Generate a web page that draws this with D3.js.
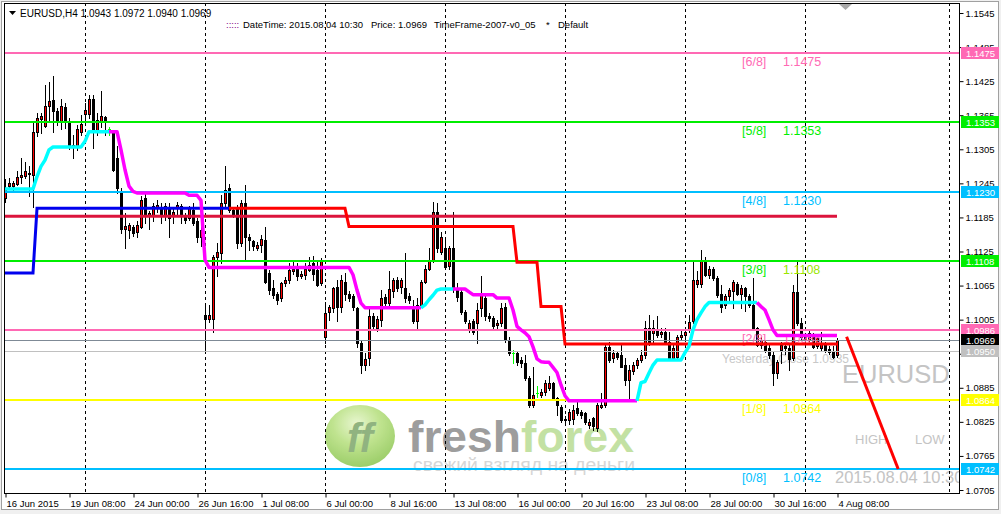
<!DOCTYPE html>
<html>
<head>
<meta charset="utf-8">
<script src="https://cdn.jsdelivr.net/npm/d3@7"></script>
<style>
body { margin: 0; background: #f0f0f0; }
svg { display: block; font-family: "Liberation Sans", Arial, sans-serif; }
</style>
</head>
<body>
<script>
// EURUSD H4, 16 Jun - 4 Aug 2015
var opens = [
1.1220,1.1240,1.1240,1.1243,1.1256,1.1258,1.1264,1.1260,1.1336,1.1359,
1.1346,1.1382,1.1392,1.1372,1.1354,1.1380,1.1354,1.1310,1.1311,1.1336,
1.1368,1.1368,1.1393,1.1336,1.1354,1.1362,1.1340,1.1333,1.1289,1.1231,
1.1164,1.1163,1.1168,1.1160,1.1169,1.1219,1.1190,1.1187,1.1204,1.1204,
1.1187,1.1204,1.1187,1.1201,1.1206,1.1187,1.1184,1.1198,1.1178,1.1151,
1.1014,1.1007,1.1007,1.1116,1.1123,1.1210,1.1237,1.1198,1.1204,1.1140,
1.1211,1.1151,1.1143,1.1132,1.1137,1.1146,1.1088,1.1060,1.1051,1.1043,
1.1069,1.1075,1.1091,1.1094,1.1081,1.1084,1.1093,1.1104,1.1093,1.1069,
1.0975,1.1019,1.1025,1.1063,1.1028,1.1072,1.1051,1.1046,1.1025,1.0963,
1.0925,1.0937,1.1011,1.0990,1.1005,1.1045,1.1034,1.1055,1.1075,1.1063,
1.1060,1.1046,1.1025,1.1002,1.1031,1.1072,1.1095,1.1110,1.1195,1.1125,
1.1131,1.1100,1.1131,1.1060,1.1054,1.1019,1.0987,1.1002,1.0999,1.1025,
1.1043,1.1011,1.1008,1.0996,1.0999,1.1028,1.0969,1.0946,1.0946,1.0934,
1.0929,1.0902,1.0855,1.0875,1.0872,1.0877,1.0884,1.0893,1.0867,1.0852,
1.0828,1.0828,1.0830,1.0849,1.0843,1.0841,1.0819,1.0831,1.0814,1.0852,
1.0855,1.0957,1.0937,1.0946,1.0943,1.0925,1.0899,1.0915,1.0925,1.0934,
1.0942,1.0990,1.0981,1.0987,1.0979,1.0984,1.0966,1.0938,1.0940,1.0975,
1.0978,1.0986,1.1002,1.1068,1.1068,1.1110,1.1084,1.1094,1.1078,1.1050,
1.1030,1.1046,1.1056,1.1068,1.1051,1.1060,1.1046,1.1031,1.0990,1.0961,
1.0966,1.0955,1.0943,1.0911,1.0952,1.0958,1.0955,1.0938,1.1054,1.0999,
1.0975,1.0970,1.0978,1.0958,1.0955,1.0962,1.0954,1.0950,1.0943];
var highs = [
1.1252,1.1255,1.1250,1.1266,1.1289,1.1283,1.1275,1.1354,1.1369,1.1369,
1.1419,1.1424,1.1434,1.1377,1.1394,1.1387,1.1360,1.1331,1.1348,1.1366,
1.1387,1.1401,1.1401,1.1369,1.1407,1.1364,1.1345,1.1336,1.1310,1.1237,
1.1193,1.1176,1.1172,1.1178,1.1222,1.1227,1.1197,1.1211,1.1215,1.1210,
1.1210,1.1211,1.1204,1.1213,1.1208,1.1192,1.1205,1.1211,1.1184,1.1169,
1.1034,1.1030,1.1119,1.1140,1.1225,1.1275,1.1243,1.1204,1.1207,1.1215,
1.1242,1.1155,1.1146,1.1141,1.1154,1.1169,1.1093,1.1075,1.1054,1.1072,
1.1080,1.1105,1.1110,1.1104,1.1090,1.1104,1.1115,1.1117,1.1108,1.1113,
1.1036,1.1031,1.1063,1.1075,1.1084,1.1087,1.1056,1.1051,1.1028,1.0969,
1.0946,1.1028,1.1016,1.1012,1.1057,1.1050,1.1090,1.1078,1.1080,1.1078,
1.1122,1.1052,1.1040,1.1043,1.1075,1.1101,1.1131,1.1213,1.1210,1.1160,
1.1151,1.1135,1.1195,1.1070,1.1060,1.1022,1.1005,1.1006,1.1034,1.1081,
1.1048,1.1016,1.1012,1.1004,1.1034,1.1034,1.0975,1.0952,1.0950,1.0940,
1.0943,1.0905,1.0922,1.0888,1.0882,1.0899,1.0905,1.0895,1.0869,1.0855,
1.0836,1.0848,1.0855,1.0865,1.0846,1.0843,1.0830,1.0834,1.0858,1.0875,
1.0963,1.0966,1.0952,1.0950,1.0960,1.0937,1.0925,1.0930,1.0938,1.0952,
1.1002,1.1013,1.1005,1.1011,1.0990,1.0990,1.0984,1.0960,1.0978,1.0985,
1.0990,1.1013,1.1110,1.1090,1.1128,1.1116,1.1100,1.1098,1.1081,1.1066,
1.1050,1.1060,1.1075,1.1072,1.1066,1.1062,1.1050,1.1078,1.0992,1.0975,
1.0970,1.0962,1.0949,1.0934,1.0965,1.0962,1.0963,1.1066,1.1110,1.1008,
1.0980,1.0987,1.0982,1.0976,1.0984,1.0966,1.0958,1.0958,1.0972];
var lows = [
1.1212,1.1237,1.1234,1.1242,1.1246,1.1255,1.1222,1.1204,1.1328,1.1333,
1.1344,1.1357,1.1336,1.1347,1.1340,1.1343,1.1306,1.1290,1.1304,1.1331,
1.1350,1.1360,1.1308,1.1331,1.1345,1.1331,1.1331,1.1267,1.1228,1.1157,
1.1132,1.1148,1.1152,1.1151,1.1166,1.1176,1.1164,1.1178,1.1195,1.1176,
1.1180,1.1151,1.1176,1.1187,1.1176,1.1176,1.1180,1.1172,1.1142,1.1134,
1.0952,1.1000,1.0984,1.1081,1.1104,1.1204,1.1195,1.1185,1.1132,1.1134,
1.1110,1.1128,1.1128,1.1128,1.1125,1.1069,1.1050,1.1043,1.1033,1.1038,
1.1064,1.1069,1.1085,1.1075,1.1078,1.1077,1.1090,1.1075,1.1064,1.1066,
1.0963,1.1005,1.1019,1.1002,1.1019,1.1040,1.1038,1.1022,1.0957,1.0911,
1.0916,1.0925,1.0988,1.0985,1.0993,1.1028,1.1031,1.1045,1.1055,1.1052,
1.1036,1.1034,1.0999,1.0987,1.1028,1.1069,1.1093,1.1107,1.1125,1.1120,
1.1095,1.1095,1.1054,1.1038,1.1015,1.0999,1.0983,1.0980,1.0963,1.1011,
1.1005,1.1003,1.0988,1.0990,1.0993,1.0966,1.0943,1.0929,1.0925,1.0922,
1.0899,1.0852,1.0852,1.0869,1.0868,1.0872,1.0881,1.0863,1.0837,1.0825,
1.0822,1.0822,1.0822,1.0837,1.0832,1.0821,1.0815,1.0811,1.0809,1.0849,
1.0852,1.0931,1.0930,1.0935,1.0921,1.0890,1.0867,1.0910,1.0920,1.0930,
1.0937,1.0960,1.0962,1.0975,1.0975,1.0962,1.0934,1.0935,1.0934,1.0970,
1.0969,1.0984,1.0999,1.1063,1.1063,1.1082,1.1078,1.1075,1.1045,1.1019,
1.1025,1.1040,1.1025,1.1048,1.1025,1.1020,1.1028,1.0987,1.0959,1.0955,
1.0948,1.0938,1.0890,1.0903,1.0928,1.0945,1.0916,1.0934,1.0996,1.0969,
1.0962,1.0966,1.0955,1.0955,1.0952,1.0948,1.0944,1.0937,1.0940];
var closes = [
1.1235,1.1246,1.1246,1.1257,1.1260,1.1266,1.1262,1.1336,1.1360,1.1363,
1.1382,1.1390,1.1372,1.1354,1.1382,1.1354,1.1310,1.1313,1.1341,1.1350,
1.1375,1.1393,1.1336,1.1357,1.1363,1.1353,1.1340,1.1269,1.1237,1.1164,
1.1170,1.1172,1.1158,1.1172,1.1216,1.1190,1.1193,1.1205,1.1207,1.1187,
1.1205,1.1184,1.1195,1.1207,1.1187,1.1181,1.1201,1.1175,1.1151,1.1163,
1.1007,1.1014,1.1116,1.1125,1.1210,1.1234,1.1198,1.1189,1.1140,1.1211,
1.1151,1.1145,1.1134,1.1137,1.1147,1.1072,1.1057,1.1049,1.1040,1.1069,
1.1075,1.1093,1.1094,1.1081,1.1085,1.1095,1.1101,1.1086,1.1066,1.1110,
1.1017,1.1028,1.1060,1.1028,1.1075,1.1051,1.1043,1.1028,1.0963,1.0925,
1.0935,1.1011,1.0993,1.1006,1.1043,1.1034,1.1059,1.1075,1.1060,1.1075,
1.1043,1.1040,1.1002,1.1030,1.1072,1.1095,1.1110,1.1195,1.1131,1.1151,
1.1098,1.1131,1.1060,1.1045,1.1019,1.1002,1.0999,1.0984,1.1022,1.1048,
1.1011,1.1008,1.0993,1.0999,1.1025,1.0969,1.0946,1.0946,1.0931,1.0929,
1.0902,1.0855,1.0872,1.0875,1.0878,1.0893,1.0893,1.0867,1.0855,1.0828,
1.0830,1.0843,1.0846,1.0840,1.0837,1.0824,1.0825,1.0817,1.0855,1.0855,
1.0957,1.0934,1.0946,1.0940,1.0922,1.0899,1.0916,1.0925,1.0934,1.0943,
1.0990,1.0963,1.0990,1.0978,1.0983,1.0966,1.0937,1.0955,1.0975,1.0978,
1.0984,1.1000,1.1075,1.1075,1.1110,1.1084,1.1095,1.1078,1.1048,1.1028,
1.1046,1.1057,1.1072,1.1051,1.1060,1.1046,1.1031,1.0990,1.0961,1.0968,
1.0952,1.0943,1.0911,1.0931,1.0960,1.0955,1.0936,1.1054,1.0999,1.0975,
1.0970,1.0981,1.0957,1.0972,1.0963,1.0952,1.0948,1.0940,1.0969];

// trailing line (cyan while up, magenta while down)
var trail = [
1.1235,1.1235,1.1235,1.1235,1.1235,1.1235,1.1235,1.1235,1.1257,1.1275,
1.1286,1.1304,1.1309,1.1309,1.1309,1.1309,1.1309,1.1309,1.1309,1.1309,
1.1319,1.1336,1.1336,1.1336,1.1336,1.1336,1.1336,1.1336,1.1336,1.1304,
1.1269,1.1240,1.1231,1.1228,1.1228,1.1228,1.1228,1.1228,1.1228,1.1228,
1.1228,1.1228,1.1228,1.1228,1.1228,1.1228,1.1224,1.1224,1.1224,1.1215,
1.1110,1.1097,1.1097,1.1097,1.1097,1.1097,1.1097,1.1097,1.1097,1.1097,
1.1097,1.1097,1.1097,1.1097,1.1097,1.1097,1.1097,1.1097,1.1097,1.1097,
1.1097,1.1097,1.1097,1.1097,1.1097,1.1097,1.1097,1.1097,1.1097,1.1097,
1.1097,1.1097,1.1097,1.1097,1.1097,1.1097,1.1097,1.1084,1.1057,1.1034,
1.1026,1.1026,1.1026,1.1026,1.1026,1.1026,1.1026,1.1026,1.1026,1.1026,
1.1026,1.1026,1.1026,1.1026,1.1026,1.1031,1.1040,1.1048,1.1057,1.1059,
1.1059,1.1059,1.1059,1.1059,1.1059,1.1059,1.1054,1.1049,1.1049,1.1049,
1.1049,1.1049,1.1049,1.1043,1.1043,1.1043,1.1043,1.1022,1.0993,1.0987,
1.0982,1.0975,1.0957,1.0936,1.0931,1.0930,1.0930,1.0921,1.0912,1.0890,
1.0871,1.0862,1.0862,1.0862,1.0862,1.0862,1.0862,1.0862,1.0862,1.0862,
1.0862,1.0862,1.0862,1.0862,1.0862,1.0862,1.0862,1.0862,1.0862,1.0894,
1.0896,1.0911,1.0925,1.0934,1.0934,1.0934,1.0934,1.0934,1.0934,1.0934,
1.0947,1.0958,1.0987,1.1005,1.1017,1.1028,1.1035,1.1035,1.1035,1.1035,
1.1035,1.1035,1.1035,1.1035,1.1035,1.1035,1.1035,1.1035,1.1035,1.1028,
1.1022,1.1005,1.0987,1.0977,1.0977,1.0977,1.0977,1.0977,1.0977,1.0977,
1.0977,1.0977,1.0977,1.0977,1.0977,1.0977,1.0977,1.0977,1.0977];
var trailUpRanges = [[0, 26], [104, 112], [158, 188]];

// stepped trend line (blue, then red)
var stepLevels = [1.1087, 1.1201, 1.1169, 1.1106, 1.1028, 1.0962];
var stepStarts = [0, 8, 86, 128, 134, 140];
var stepBlueUntil = 56;

var murreyNames  = ['[0/8]', '[1/8]', '[2/8]', '[3/8]', '[4/8]', '[5/8]', '[6/8]'];
var murreyLevels = [1.0742, 1.0864, 1.0986, 1.1108, 1.1230, 1.1353, 1.1475];
var murreyColors = ['#00bfff', '#ffff00', '#ff69b4', '#00ee00', '#00bfff', '#00ee00', '#ff69b4'];

var crimsonLevel = 1.1187;
var currentPrice = 1.0969;
var yesterdayClose = 1.0950;
var projBars = [210.4, 223.3];
var projPrices = [1.0975, 1.0742];

var priceTicks = [1.0705, 1.0765, 1.0825, 1.0885, 1.0945, 1.1005, 1.1065, 1.1125,
                  1.1185, 1.1245, 1.1305, 1.1365, 1.1425, 1.1485, 1.1545];
var timeBars = [0, 16, 32, 48, 64, 80, 96, 112, 128, 144, 160, 176, 192, 208];
var timeLabels = ['16 Jun 2015', '19 Jun 08:00', '24 Jun 00:00', '26 Jun 16:00', '1 Jul 08:00',
                  '6 Jul 00:00', '8 Jul 16:00', '13 Jul 08:00', '16 Jul 00:00', '20 Jul 16:00',
                  '23 Jul 08:00', '28 Jul 00:00', '30 Jul 16:00', '4 Aug 08:00'];
var separatorBars = [20, 50, 80, 110, 140, 170, 200, 236];

var W = 1001, H = 514;
var plotL = 4, plotT = 3, plotR = 959, plotB = 493;

var x = d3.scaleLinear().domain([0, 208]).range([5, 837]);
var y = d3.scaleLinear().domain([1.0705, 1.1545]).range([490, 13]);
var px = function (i) { return Math.round(x(i)) + 0.5; };
var py = function (p) { return Math.round(y(p)) + 0.5; };

var svg = d3.select('body').append('svg').attr('width', W).attr('height', H);

var defs = svg.append('defs');
defs.append('clipPath').attr('id', 'plotclip')
    .append('rect').attr('x', plotL + 1).attr('y', plotT + 1)
    .attr('width', plotR - plotL - 1).attr('height', plotB - plotT - 1);
var grad = defs.append('radialGradient').attr('id', 'blob')
    .attr('cx', '45%').attr('cy', '30%').attr('r', '75%');
grad.append('stop').attr('offset', '0%').attr('stop-color', '#e4f5c8');
grad.append('stop').attr('offset', '45%').attr('stop-color', '#b5df7c');
grad.append('stop').attr('offset', '100%').attr('stop-color', '#86c24a');

svg.append('rect').attr('width', W).attr('height', H).attr('fill', '#f0f0f0');
svg.append('rect').attr('x', 1.5).attr('y', 1.5).attr('width', 997).attr('height', 508)
    .attr('fill', '#fff').attr('stroke', '#a0a0a0');

var g = svg.append('g').attr('clip-path', 'url(#plotclip)');

// freshforex watermark
var logo = g.append('g').attr('opacity', 0.85);
logo.append('ellipse').attr('cx', 360).attr('cy', 436).attr('rx', 35).attr('ry', 31)
    .attr('fill', 'url(#blob)');
logo.append('text').attr('x', 360).attr('y', 452).attr('text-anchor', 'middle')
    .attr('font-size', 40).attr('font-weight', 'bold').attr('font-style', 'italic')
    .attr('fill', '#7da66a').text('ff');
var ff = logo.append('text').attr('x', 408).attr('y', 452)
    .attr('font-size', 45).attr('font-weight', 'bold')
    .attr('textLength', 226).attr('lengthAdjust', 'spacingAndGlyphs');
ff.append('tspan').attr('fill', '#8c8c8c').text('fresh');
ff.append('tspan').attr('fill', '#b9dc93').text('forex');
logo.append('text').attr('x', 413).attr('y', 471).attr('font-size', 18)
    .attr('fill', '#cfcfcf').attr('textLength', 222).attr('lengthAdjust', 'spacingAndGlyphs')
    .text('свежий взгляд на деньги');

// background text objects
g.append('text').attr('x', 842).attr('y', 383).attr('font-size', 25.5)
    .attr('fill', '#c4c4c4').text('EURUSD');
g.append('text').attr('x', 855).attr('y', 444).attr('font-size', 13)
    .attr('fill', '#c4c4c4').text('HIGH');
g.append('text').attr('x', 915).attr('y', 444).attr('font-size', 13)
    .attr('fill', '#c4c4c4').text('LOW');
g.append('text').attr('x', 835).attr('y', 483).attr('font-size', 16.5)
    .attr('fill', '#c4c4c4').text('2015.08.04 10:30');
g.append('text').attr('x', 722).attr('y', 363).attr('font-size', 12)
    .attr('fill', '#c8c8c8').text('Yesterday Close 1.0935');

// period separators
g.selectAll('line.sep').data(separatorBars).join('line')
    .attr('class', 'sep')
    .attr('x1', function (d) { return px(d); }).attr('x2', function (d) { return px(d); })
    .attr('y1', plotT).attr('y2', plotB)
    .attr('stroke', '#000').attr('stroke-dasharray', '3,3');

// candles
var bars = d3.range(opens.length).map(function (i) {
    return { i: i, o: opens[i], h: highs[i], l: lows[i], c: closes[i] };
});
g.selectAll('line.wick').data(bars).join('line')
    .attr('class', 'wick')
    .attr('x1', function (d) { return px(d.i); }).attr('x2', function (d) { return px(d.i); })
    .attr('y1', function (d) { return Math.round(y(d.h)); })
    .attr('y2', function (d) { return Math.round(y(d.l)) + 1; })
    .attr('stroke', function (d) { return d.o === d.c ? '#00ff00' : '#000'; });
g.selectAll('rect.body').data(bars.filter(function (d) { return d.o !== d.c; })).join('rect')
    .attr('class', 'body')
    .attr('x', function (d) { return px(d.i) - 1; })
    .attr('y', function (d) { return py(Math.max(d.o, d.c)); })
    .attr('width', 2)
    .attr('height', function (d) { return Math.max(1, Math.round(y(Math.min(d.o, d.c))) - Math.round(y(Math.max(d.o, d.c)))); })
    .attr('fill', function (d) { return d.c > d.o ? '#ff0000' : '#000'; })
    .attr('stroke', '#000').attr('shape-rendering', 'crispEdges');
g.selectAll('line.doji').data(bars.filter(function (d) { return d.o === d.c; })).join('line')
    .attr('class', 'doji')
    .attr('x1', function (d) { return px(d.i) - 1.5; }).attr('x2', function (d) { return px(d.i) + 1.5; })
    .attr('y1', function (d) { return py(d.o); }).attr('y2', function (d) { return py(d.o); })
    .attr('stroke', '#00ff00');

// horizontal lines
g.append('line').attr('x1', plotL).attr('x2', plotR)
    .attr('y1', py(yesterdayClose)).attr('y2', py(yesterdayClose)).attr('stroke', '#c0c0c0');
g.append('line').attr('x1', plotL).attr('x2', plotR)
    .attr('y1', py(currentPrice)).attr('y2', py(currentPrice)).attr('stroke', '#7f8a96');
g.selectAll('line.murrey').data(murreyLevels).join('line')
    .attr('class', 'murrey')
    .attr('x1', plotL).attr('x2', plotR)
    .attr('y1', function (d) { return Math.round(y(d)); }).attr('y2', function (d) { return Math.round(y(d)); })
    .attr('stroke', function (d, i) { return murreyColors[i]; }).attr('stroke-width', 2);
g.append('line').attr('x1', x(0)).attr('x2', x(208))
    .attr('y1', y(crimsonLevel)).attr('y2', y(crimsonLevel))
    .attr('stroke', '#dc143c').attr('stroke-width', 3);

// murrey labels
murreyLevels.forEach(function (lv, i) {
    var ty = Math.round(y(lv)) + 13;
    g.append('text').attr('x', 742).attr('y', ty).attr('font-size', 12.5)
        .attr('fill', murreyColors[i]).text(murreyNames[i]);
    g.append('text').attr('x', 783).attr('y', ty).attr('font-size', 12.5)
        .attr('fill', i === 3 ? '#9ae600' : murreyColors[i]).text(lv.toFixed(4));
});

// stepped trend line
var stepVals = opens.map(function (o, i) {
    var k = d3.bisectRight(stepStarts, i) - 1;
    return stepLevels[k];
});
var lineOf = function (vals) {
    return d3.line().x(function (i) { return x(i); }).y(function (i) { return y(vals[i]); });
};
var stepLine = lineOf(stepVals);
g.append('path').attr('d', stepLine(d3.range(0, stepBlueUntil + 1)))
    .attr('fill', 'none').attr('stroke', '#0000ee').attr('stroke-width', 3);
g.append('path').attr('d', stepLine(d3.range(stepBlueUntil, opens.length)))
    .attr('fill', 'none').attr('stroke', '#ff0000').attr('stroke-width', 3);

// trailing line
var trailLine = lineOf(trail);
var edges = [0];
trailUpRanges.forEach(function (r) { edges.push(r[0], r[1]); });
edges.push(trail.length - 1);
for (var k = 0; k < edges.length - 1; k++) {
    var a = edges[k], b = edges[k + 1];
    if (b <= a) continue;
    var up = trailUpRanges.some(function (r) { return r[0] === a && r[1] === b; });
    g.append('path').attr('d', trailLine(d3.range(a, b + 1)))
        .attr('fill', 'none').attr('stroke', up ? '#00ffff' : '#ff00ff')
        .attr('stroke-width', 3.5).attr('stroke-linejoin', 'round');
}

// projection line
g.append('line')
    .attr('x1', x(projBars[0])).attr('y1', y(projPrices[0]))
    .attr('x2', x(projBars[1])).attr('y2', y(projPrices[1]))
    .attr('stroke', '#ff0000').attr('stroke-width', 3);

// chart shift marker
svg.append('path').attr('d', 'M839,4 L852,4 L845.5,10 Z').attr('fill', '#a8a8a8');

// frame
svg.append('rect').attr('x', plotL + 0.5).attr('y', plotT + 0.5)
    .attr('width', plotR - plotL).attr('height', plotB - plotT)
    .attr('fill', 'none').attr('stroke', '#000');

// right price axis
var yAxis = svg.append('g').attr('transform', 'translate(' + (plotR + 0.5) + ',0)')
    .call(d3.axisRight(y).tickValues(priceTicks).tickSize(4).tickSizeOuter(0)
        .tickFormat(d3.format('.4f')));
yAxis.select('.domain').remove();
yAxis.selectAll('text').attr('font-family', '"Liberation Sans", Arial, sans-serif')
    .attr('font-size', 9.5).attr('fill', '#000').attr('x', 6);

// price boxes
var boxes = murreyLevels.map(function (lv, i) {
    return { p: lv, bg: murreyColors[i], fg: '#fff' };
});
boxes.push({ p: currentPrice, bg: '#000', fg: '#fff' });
boxes.push({ p: yesterdayClose, bg: '#c0c0c0', fg: '#fff' });
var bx = svg.selectAll('g.box').data(boxes).join('g').attr('class', 'box')
    .attr('transform', function (d) { return 'translate(' + (plotR + 2) + ',' + Math.round(y(d.p)) + ')'; });
bx.append('rect').attr('x', 0).attr('y', -6).attr('width', 38).attr('height', 12)
    .attr('fill', function (d) { return d.bg; });
bx.append('text').attr('x', 5).attr('y', 4).attr('font-size', 9.5)
    .attr('fill', function (d) { return d.fg; }).text(function (d) { return d.p.toFixed(4); });

// bottom time axis
var xAxis = svg.append('g').attr('transform', 'translate(0,' + (plotB + 0.5) + ')')
    .call(d3.axisBottom(x).tickValues(timeBars).tickSize(4).tickSizeOuter(0)
        .tickFormat(function (d, i) { return timeLabels[i]; }));
xAxis.select('.domain').remove();
xAxis.selectAll('.tick line').attr('transform', 'translate(0.5,0)');
xAxis.selectAll('text').attr('font-family', '"Liberation Sans", Arial, sans-serif')
    .attr('font-size', 9.5).attr('fill', '#000').attr('text-anchor', 'start')
    .attr('x', 1).attr('y', 7);

// header
svg.append('path').attr('d', 'M9,11 L16,11 L12.5,15 Z').attr('fill', '#000');
svg.append('text').attr('x', 20).attr('y', 17).attr('font-size', 10)
    .text('EURUSD,H4  1.0943 1.0972 1.0940 1.0969');
svg.append('text').attr('x', 226).attr('y', 28).attr('font-size', 9.5)
    .attr('fill', '#800080').text(':::::');
svg.append('text').attr('x', 243).attr('y', 28).attr('font-size', 9.5)
    .text('DateTime: 2015.08.04 10:30');
svg.append('text').attr('x', 371).attr('y', 28).attr('font-size', 9.5)
    .text('Price: 1.0969');
svg.append('text').attr('x', 434).attr('y', 28).attr('font-size', 9.5)
    .text('TimeFrame-2007-v0_05');
svg.append('text').attr('x', 546).attr('y', 28).attr('font-size', 9.5)
    .text('*');
svg.append('text').attr('x', 558).attr('y', 28).attr('font-size', 9.5)
    .text('Default');
</script>
</body>
</html>
